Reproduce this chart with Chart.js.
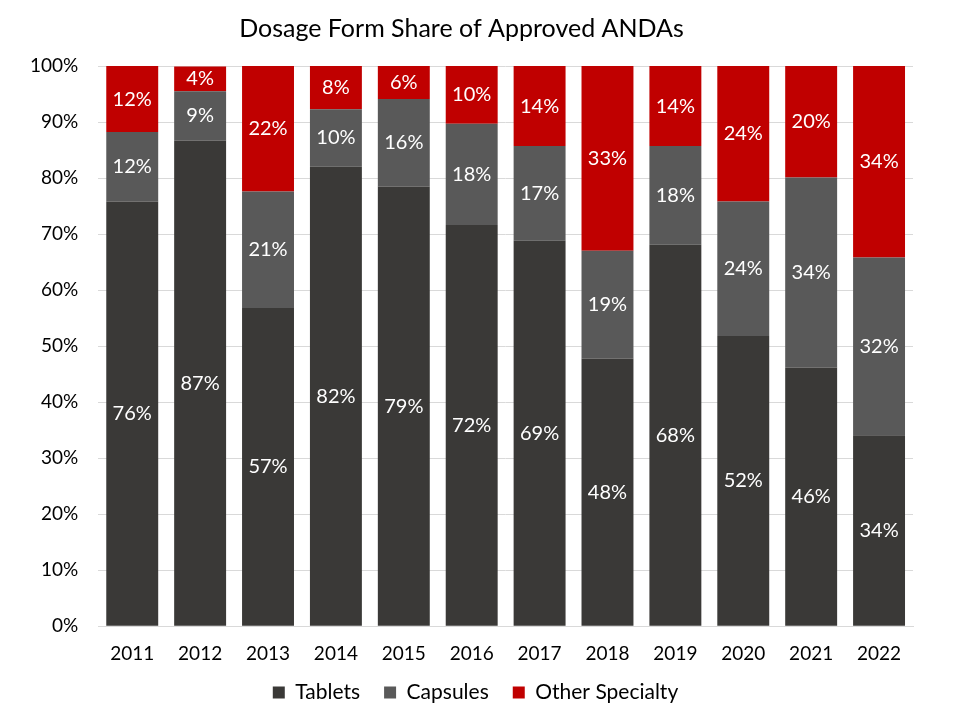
<!DOCTYPE html>
<html>
<head>
<meta charset="utf-8">
<script src="https://cdn.jsdelivr.net/npm/chart.js@4.4.0/dist/chart.umd.min.js"></script>
<style>
  html, body { margin: 0; padding: 0; background: #fff; }
  #wrap { width: 958px; height: 714px; }
</style>
</head>
<body>
<div id="wrap"><canvas id="chart" width="958" height="714"></canvas></div>
<script>
var years = ['2011', '2012', '2013', '2014', '2015', '2016', '2017', '2018', '2019', '2020', '2021', '2022'];
var tablets = [75.8, 86.7, 56.8, 82.0, 78.5, 71.6, 68.8, 47.8, 68.1, 51.8, 46.2, 34.1];
var capsules = [12.4, 8.8, 20.8, 10.3, 15.6, 18.1, 16.9, 19.2, 17.6, 24.0, 33.9, 31.7];
var otherSpecialty = [11.8, 4.4, 22.4, 7.7, 5.9, 10.3, 14.3, 33.0, 14.3, 24.2, 19.9, 34.2];

var FONT = 'Lato, "Open Sans", sans-serif';

// draws the white % label in the middle of every segment
var segmentLabels = {
  id: 'segmentLabels',
  afterDatasetsDraw: function(chart) {
    var ctx = chart.ctx;
    ctx.save();
    ctx.fillStyle = '#ffffff';
    ctx.font = '20px ' + FONT;
    ctx.textAlign = 'center';
    ctx.textBaseline = 'middle';
    chart.data.datasets.forEach(function(ds, i) {
      var meta = chart.getDatasetMeta(i);
      meta.data.forEach(function(bar, j) {
        var p = bar.getCenterPoint();
        ctx.fillText(Math.round(ds.data[j]) + '%', p.x, p.y);
      });
    });
    ctx.restore();
  }
};

// legend padding is wide for item spacing; pull it closer to the axis
var LEGEND_SHIFT = 15;
var LEGEND_RIGHT = 14;
var legendNudge = {
  id: 'legendNudge',
  beforeInit: function(chart) {
    var fit = chart.legend.fit;
    chart.legend.fit = function() {
      fit.call(this);
      this.height -= LEGEND_SHIFT;
    };
  },
  afterLayout: function(chart) {
    var lg = chart.legend;
    lg.top -= LEGEND_SHIFT;
    lg.left += LEGEND_RIGHT;
    lg.right += LEGEND_RIGHT;
  }
};

var config = {
  type: 'bar',
  data: {
    labels: years,
    datasets: [
      { label: 'Tablets', data: tablets, backgroundColor: '#3a3937' },
      { label: 'Capsules', data: capsules, backgroundColor: '#595959' },
      { label: 'Other Specialty', data: otherSpecialty, backgroundColor: '#c00000' }
    ]
  },
  options: {
    responsive: false,
    animation: false,
    layout: {
      padding: { left: 10, right: 45, top: 3, bottom: 1 }
    },
    datasets: {
      bar: { barPercentage: 0.765, categoryPercentage: 1, borderWidth: 0 }
    },
    scales: {
      x: {
        stacked: true,
        grid: { display: false },
        border: { color: '#d9d9d9' },
        ticks: { color: '#000', font: { family: FONT, size: 19 }, padding: 8 }
      },
      y: {
        stacked: true,
        min: 0,
        max: 100,
        grid: { color: '#d9d9d9', drawTicks: false },
        border: { display: false },
        ticks: {
          stepSize: 10,
          color: '#000',
          padding: 20,
          font: { family: FONT, size: 19 },
          callback: function(v) { return v + '%'; }
        }
      }
    },
    plugins: {
      title: {
        display: true,
        text: 'Dosage Form Share of Approved ANDAs',
        color: '#000',
        font: { family: FONT, size: 25, weight: 'normal' },
        padding: { top: 11, bottom: 22 }
      },
      legend: {
        position: 'bottom',
        labels: {
          color: '#000',
          boxWidth: 12,
          boxHeight: 12,
          padding: 24,
          font: { family: FONT, size: 21 }
        }
      },
      tooltip: { enabled: false }
    }
  },
  plugins: [segmentLabels, legendNudge]
};

window.onload = function() {
  var ctx = document.getElementById('chart').getContext('2d');
  window.myChart = new Chart(ctx, config);
};
</script>
</body>
</html>
